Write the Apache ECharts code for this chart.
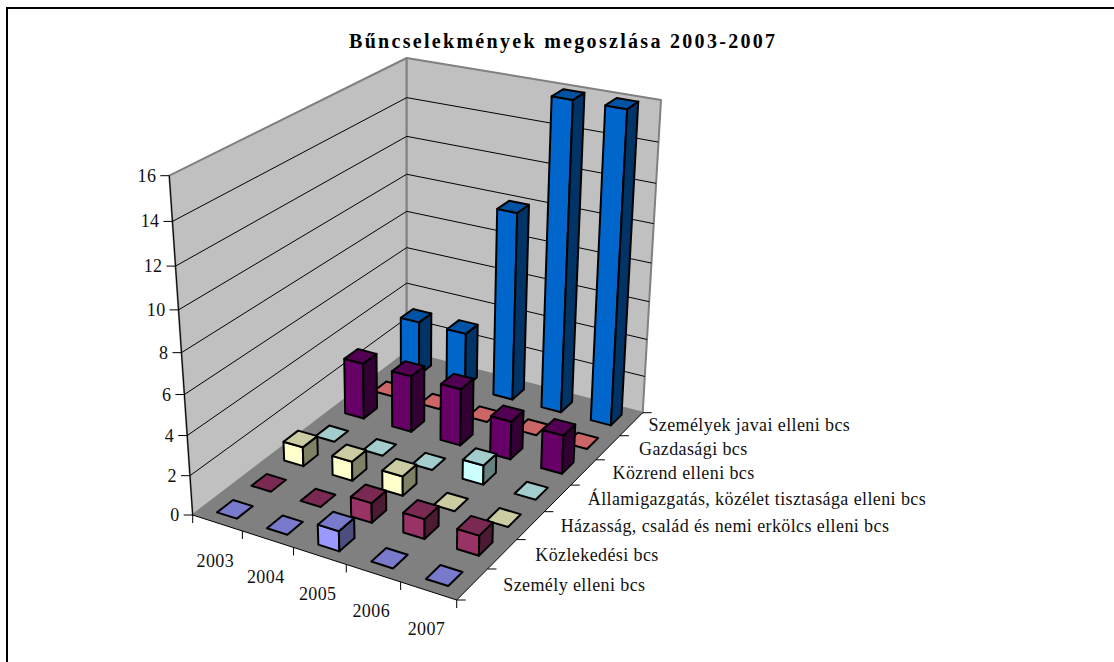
<!DOCTYPE html>
<html>
<head>
<meta charset="utf-8">
<style>
  html, body { margin: 0; padding: 0; background: #fff; }
  #main { width: 1114px; height: 662px; }
  /* zrender has no letter spacing option, the svg renderer lets css do it */
  #main text { letter-spacing: 0.4px; }
  #main text[style*="bold"] { letter-spacing: 2.3px; }
</style>
<script src="https://cdn.jsdelivr.net/npm/echarts@6/dist/echarts.min.js"></script>
</head>
<body>
<div id="main"></div>
<script>
const years = ['2003', '2004', '2005', '2006', '2007']
const valueTicks = [0, 2, 4, 6, 8, 10, 12, 14, 16]
const titleText = 'Bűncselekmények megoszlása 2003-2007'

// front to back, same order as on the depth axis
const seriesNames = [
  'Személy elleni bcs',
  'Közlekedési bcs',
  'Házasság, család és nemi erkölcs elleni bcs',
  'Államigazgatás, közélet tisztasága elleni bcs',
  'Közrend elleni bcs',
  'Gazdasági bcs',
  'Személyek javai elleni bcs'
]
const szemelyElleni = [0, 0, 1, 0, 0]
const kozlekedesi = [0, 0, 1, 1, 1]
const hazassag = [1, 1, 1, 0, 0]
const allamigazgatas = [0, 0, 0, 1, 0]
const kozrend = [3, 3, 3, 2, 2]
const gazdasagi = [0, 0, 0, 0, 0]
const szemelyekJavai = [3, 3, 10, 16, 16]
const seriesValues = [szemelyElleni, kozlekedesi, hazassag, allamigazgatas, kozrend, gazdasagi, szemelyekJavai]
const seriesColors = ['#9999FF', '#993366', '#FFFFCC', '#CCFFFF', '#660066', '#FF8080', '#0066CC']

const maxValue = 16
const fontFamily = '"Liberation Serif", serif'
const labelFont = '18px ' + fontFamily

// box corners on the page, order: front-left, front-right, back-right, back-left
const floorCorners = [[192.7, 515], [456.7, 600], [642.7, 412.7], [406.7, 352]]
const topCorners = [[169.3, 175.7], [461, 239], [661, 100], [406.7, 58]]
const depthPerspective = 1.09
const barWidth = 0.4
const barDepth = 0.46
const depthLabelShift = [31, 33, 30, 30, 29, 31, 17]

function quadMap(q) {
  const [[x0, y0], [x1, y1], [x2, y2], [x3, y3]] = q
  const dx1 = x1 - x2, dx2 = x3 - x2, sx = x0 - x1 + x2 - x3
  const dy1 = y1 - y2, dy2 = y3 - y2, sy = y0 - y1 + y2 - y3
  const den = dx1 * dy2 - dx2 * dy1
  const g = (sx * dy2 - dx2 * sy) / den
  const h = (dx1 * sy - sx * dy1) / den
  const a = x1 - x0 + g * x1, b = x3 - x0 + h * x3
  const d = y1 - y0 + g * y1, e = y3 - y0 + h * y3
  return (s, t) => {
    const w = g * s + h * t + 1
    return [(a * s + b * t + x0) / w, (d * s + e * t + y0) / w]
  }
}
const floorAt = quadMap(floorCorners)
const topAt = quadMap(topCorners)

// s goes along the years, t along the depth axis, both 0..1
function project(s, t, value) {
  const z = value / maxValue
  const q = z / (z + depthPerspective * (1 - z))
  const f = floorAt(s, t)
  const c = topAt(s, t)
  return [f[0] + (c[0] - f[0]) * q, f[1] + (c[1] - f[1]) * q]
}

function shade(hex, k) {
  const n = parseInt(hex.slice(1), 16)
  const part = (v) => Math.round(v * k)
  return 'rgb(' + part(n >> 16) + ',' + part((n >> 8) & 255) + ',' + part(n & 255) + ')'
}

function poly(points, fill, stroke, width) {
  return {
    type: 'polygon',
    shape: { points },
    style: { fill, stroke: stroke || null, lineWidth: width || 0, lineJoin: 'round' }
  }
}

function line(a, b, color, width) {
  return {
    type: 'line',
    shape: { x1: a[0], y1: a[1], x2: b[0], y2: b[1] },
    style: { stroke: color, lineWidth: width, fill: null }
  }
}

function label(text, x, y, align) {
  return {
    type: 'text',
    style: { text, x, y, font: labelFont, fill: '#111', align, verticalAlign: 'middle' }
  }
}

function renderBox(params, api) {
  const pt = (s, t, v) => api.coord(project(s, t, v))
  const wall = '#C0C0C0'
  const edge = '#808080'
  const children = [
    poly([pt(0, 0, 0), pt(1, 0, 0), pt(1, 1, 0), pt(0, 1, 0)], '#808080'),
    poly([pt(0, 0, 0), pt(0, 1, 0), pt(0, 1, maxValue), pt(0, 0, maxValue)], wall, edge, 2),
    poly([pt(0, 1, 0), pt(1, 1, 0), pt(1, 1, maxValue), pt(0, 1, maxValue)], wall, edge, 2)
  ]
  valueTicks.forEach((v) => {
    const a = pt(0, 0, v)
    if (v > 0 && v < maxValue) {
      children.push(line(a, pt(0, 1, v), '#000', 1))
      children.push(line(pt(0, 1, v), pt(1, 1, v), '#000', 1))
    }
    children.push(line([a[0] - 9, a[1]], a, '#000', 1))
    children.push(label(String(v), a[0] - 13, a[1], 'right'))
  })
  children.push(line(pt(0, 0, 0), pt(0, 0, maxValue), '#000', 1))
  children.push(line(pt(0, 0, 0), pt(1, 0, 0), '#000', 1))
  children.push(line(pt(1, 0, 0), pt(1, 1, 0), '#000', 1))
  for (let i = 0; i <= years.length; i++) {
    const a = pt(i / years.length, 0, 0)
    children.push(line(a, [a[0], a[1] + 8], '#000', 1))
  }
  years.forEach((y, i) => {
    const a = pt((i + 0.5) / years.length, 0, 0)
    children.push(label(y, a[0] - 2, a[1] + 38, 'center'))
  })
  for (let j = 0; j <= seriesNames.length; j++) {
    const a = pt(1, j / seriesNames.length, 0)
    children.push(line(a, [a[0] + 9, a[1]], '#000', 1))
  }
  seriesNames.forEach((name, j) => {
    const a = pt(1, (j + 0.5) / seriesNames.length, 0)
    children.push(label(name, a[0] + depthLabelShift[j], a[1] + 1, 'left'))
  })
  return { type: 'group', children }
}

function barRenderer(depthIndex) {
  const color = seriesColors[depthIndex]
  return (params, api) => {
    const i = api.value(0)
    const v = api.value(1)
    const ds = barWidth / years.length / 2
    const dt = barDepth / seriesNames.length / 2
    const cs = (i + 0.5) / years.length
    const ct = (depthIndex + 0.5) / seriesNames.length
    const s0 = cs - ds, s1 = cs + ds, t0 = ct - dt, t1 = ct + dt
    const pt = (s, t, h) => api.coord(project(s, t, h))
    const children = []
    if (v > 0) {
      children.push(poly([pt(s0, t0, 0), pt(s1, t0, 0), pt(s1, t0, v), pt(s0, t0, v)], color, '#000', 2))
      children.push(poly([pt(s1, t0, 0), pt(s1, t1, 0), pt(s1, t1, v), pt(s1, t0, v)], shade(color, 0.5), '#000', 2))
    }
    children.push(poly([pt(s0, t0, v), pt(s1, t0, v), pt(s1, t1, v), pt(s0, t1, v)], shade(color, 0.8), '#000', 2))
    return { type: 'group', children }
  }
}

const barSeries = seriesNames.map((name, j) => ({
  name,
  type: 'custom',
  renderItem: barRenderer(j),
  data: seriesValues[j].map((v, i) => [i, v]),
  z: 3 + seriesNames.length - j,
  silent: true
}))

const chart = echarts.init(document.getElementById('main'), null, { renderer: 'svg' })
chart.setOption({
  animation: false,
  backgroundColor: '#fff',
  title: {
    text: titleText,
    left: 349,
    top: 31,
    padding: 0,
    textStyle: { fontFamily, fontSize: 20, fontWeight: 'bold', color: '#000' }
  },
  grid: { left: 0, right: 0, top: 0, bottom: 0 },
  xAxis: { type: 'value', min: 0, max: 1114, show: false },
  yAxis: { type: 'value', min: 0, max: 662, inverse: true, show: false },
  graphic: [{
    type: 'polyline',
    shape: { points: [[7, 662], [7, 8], [1114, 8]] },
    style: { stroke: '#000', lineWidth: 2, fill: null }
  }],
  series: [{
    type: 'custom',
    name: 'box',
    renderItem: renderBox,
    data: [[0, 0]],
    z: 1,
    silent: true
  }].concat(barSeries)
})
</script>
</body>
</html>
